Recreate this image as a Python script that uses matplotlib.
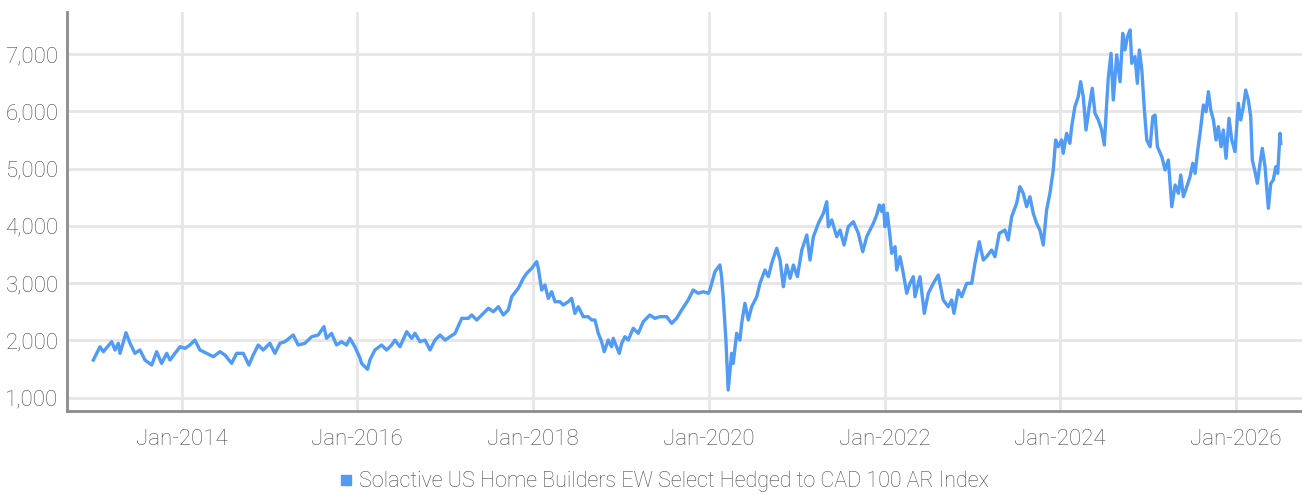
import matplotlib
matplotlib.use("Agg")
import matplotlib.pyplot as plt
import matplotlib.dates as mdates
from matplotlib.lines import Line2D
import pandas as pd
import numpy as np

# Decimal-year dates and index levels
years = [
    2012.994, 2013.070, 2013.108, 2013.203, 2013.241, 2013.278, 2013.298, 2013.366, 2013.412, 2013.468,
    2013.525, 2013.582, 2013.659, 2013.715, 2013.772, 2013.829, 2013.867, 2013.924, 2013.981, 2014.038,
    2014.094, 2014.151, 2014.208, 2014.285, 2014.360, 2014.436, 2014.493, 2014.569, 2014.626, 2014.701,
    2014.766, 2014.815, 2014.872, 2014.929, 2015.005, 2015.062, 2015.119, 2015.176, 2015.270, 2015.327,
    2015.403, 2015.480, 2015.555, 2015.620, 2015.650, 2015.707, 2015.764, 2015.821, 2015.878, 2015.916,
    2015.972, 2016.029, 2016.049, 2016.067, 2016.117, 2016.143, 2016.200, 2016.276, 2016.333, 2016.390,
    2016.428, 2016.485, 2016.561, 2016.618, 2016.655, 2016.712, 2016.769, 2016.826, 2016.883, 2016.940,
    2016.997, 2017.054, 2017.111, 2017.187, 2017.262, 2017.301, 2017.358, 2017.415, 2017.490, 2017.547,
    2017.604, 2017.660, 2017.717, 2017.756, 2017.831, 2017.888, 2017.927, 2017.984, 2018.041, 2018.059,
    2018.097, 2018.135, 2018.173, 2018.211, 2018.249, 2018.306, 2018.343, 2018.400, 2018.439, 2018.476,
    2018.514, 2018.571, 2018.628, 2018.667, 2018.704, 2018.742, 2018.780, 2018.810, 2018.855, 2018.894,
    2018.912, 2018.981, 2019.008, 2019.046, 2019.083, 2019.140, 2019.197, 2019.254, 2019.330, 2019.387,
    2019.444, 2019.520, 2019.577, 2019.634, 2019.691, 2019.766, 2019.823, 2019.880, 2019.937, 2019.994,
    2020.013, 2020.070, 2020.127, 2020.146, 2020.164, 2020.195, 2020.221, 2020.260, 2020.278, 2020.317,
    2020.354, 2020.374, 2020.411, 2020.449, 2020.488, 2020.545, 2020.582, 2020.639, 2020.677, 2020.715,
    2020.772, 2020.810, 2020.847, 2020.886, 2020.924, 2020.961, 2021.007, 2021.057, 2021.114, 2021.151,
    2021.189, 2021.246, 2021.303, 2021.341, 2021.359, 2021.398, 2021.455, 2021.493, 2021.538, 2021.587,
    2021.644, 2021.701, 2021.751, 2021.796, 2021.872, 2021.910, 2021.940, 2021.967, 2021.986, 2022.005,
    2022.031, 2022.062, 2022.081, 2022.119, 2022.138, 2022.176, 2022.213, 2022.252, 2022.289, 2022.327,
    2022.346, 2022.403, 2022.452, 2022.498, 2022.555, 2022.611, 2022.668, 2022.725, 2022.764, 2022.790,
    2022.839, 2022.878, 2022.935, 2022.992, 2023.029, 2023.078, 2023.124, 2023.162, 2023.219, 2023.257,
    2023.306, 2023.371, 2023.408, 2023.447, 2023.504, 2023.541, 2023.579, 2023.618, 2023.655, 2023.693,
    2023.731, 2023.769, 2023.807, 2023.845, 2023.883, 2023.921, 2023.948, 2023.977, 2024.016, 2024.034,
    2024.073, 2024.110, 2024.130, 2024.167, 2024.205, 2024.232, 2024.262, 2024.293, 2024.330, 2024.364,
    2024.395, 2024.433, 2024.471, 2024.501, 2024.528, 2024.546, 2024.577, 2024.603, 2024.642, 2024.680,
    2024.710, 2024.736, 2024.763, 2024.794, 2024.813, 2024.850, 2024.876, 2024.899, 2024.927, 2024.956,
    2024.983, 2025.021, 2025.052, 2025.078, 2025.104, 2025.154, 2025.192, 2025.229, 2025.268, 2025.306,
    2025.343, 2025.370, 2025.400, 2025.439, 2025.476, 2025.507, 2025.533, 2025.564, 2025.590, 2025.628,
    2025.658, 2025.685, 2025.712, 2025.742, 2025.772, 2025.798, 2025.829, 2025.855, 2025.886, 2025.920,
    2025.951, 2025.988, 2026.026, 2026.053, 2026.083, 2026.110, 2026.140, 2026.167, 2026.185, 2026.216,
    2026.242, 2026.273, 2026.299, 2026.330, 2026.368, 2026.395, 2026.424, 2026.452, 2026.474, 2026.501,
    2026.509,
]
values = [
    1658, 1890, 1803, 1978, 1833, 1950, 1775, 2135, 1950, 1775,
    1833, 1658, 1571, 1803, 1600, 1775, 1658, 1775, 1890, 1862,
    1920, 2007, 1833, 1775, 1716, 1803, 1746, 1600, 1775, 1775,
    1571, 1746, 1920, 1833, 1950, 1775, 1950, 1978, 2095, 1920,
    1950, 2065, 2095, 2240, 2037, 2124, 1920, 1978, 1920, 2037,
    1890, 1700, 1600, 1571, 1496, 1658, 1833, 1920, 1833, 1920,
    2007, 1890, 2152, 2037, 2124, 1978, 2007, 1833, 2007, 2095,
    2007, 2065, 2124, 2386, 2386, 2444, 2357, 2444, 2561, 2502,
    2589, 2444, 2531, 2763, 2910, 3085, 3172, 3259, 3375, 3259,
    2880, 2968, 2735, 2851, 2676, 2676, 2618, 2676, 2735, 2473,
    2589, 2414, 2414, 2357, 2357, 2124, 1978, 1803, 2007, 1890,
    2037, 1775, 1950, 2065, 2007, 2212, 2124, 2327, 2444, 2386,
    2414, 2414, 2299, 2386, 2531, 2706, 2880, 2823, 2851, 2823,
    2880, 3200, 3317, 3113, 2763, 2007, 1134, 1775, 1600, 2124,
    2007, 2299, 2648, 2357, 2589, 2763, 2997, 3230, 3113, 3346,
    3608, 3404, 2938, 3317, 3085, 3317, 3113, 3579, 3841, 3404,
    3811, 4045, 4220, 4422, 3986, 4103, 3811, 3928, 3666, 3986,
    4073, 3870, 3549, 3811, 4045, 4190, 4365, 4250, 4365, 3986,
    4220, 3811, 3521, 3637, 3230, 3462, 3172, 2823, 2997, 3113,
    2763, 3113, 2473, 2823, 2997, 3142, 2706, 2589, 2706, 2473,
    2880, 2763, 2997, 2997, 3346, 3724, 3404, 3462, 3579, 3462,
    3870, 3928, 3753, 4160, 4394, 4684, 4569, 4335, 4510, 4220,
    4045, 3928, 3666, 4277, 4569, 4976, 5500, 5382, 5500, 5267,
    5616, 5441, 5732, 6081, 6255, 6517, 6255, 5674, 6081, 6402,
    5966, 5849, 5674, 5412, 6140, 6577, 7013, 6198, 6984, 6517,
    7362, 7071, 7303, 7420, 6838, 6954, 6489, 7071, 6722, 6023,
    5500, 5382, 5906, 5936, 5382, 5208, 4976, 5150, 4335, 4714,
    4569, 4888, 4510, 4684, 4859, 5093, 4918, 5325, 5616, 6111,
    5993, 6343, 6023, 5849, 5500, 5732, 5382, 5674, 5180, 5878,
    5500, 5296, 6140, 5849, 6081, 6372, 6198, 5906, 5150, 4946,
    4743, 5093, 5354, 5033, 4307, 4743, 4801, 5033, 4918, 5616,
    5441,
]
series_name = "Solactive US Home Builders EW Select Hedged to CAD 100 AR Index"
y_ticks = [1000, 2000, 3000, 4000, 5000, 6000, 7000]
x_tick_years = [2014, 2016, 2018, 2020, 2022, 2024, 2026]


def dec_to_date(y):
    yr = int(np.floor(y))
    start = pd.Timestamp(year=yr, month=1, day=1)
    end = pd.Timestamp(year=yr + 1, month=1, day=1)
    return start + (end - start) * (y - yr)


dates = [dec_to_date(y) for y in years]

LINE = "#4f9bf6"
TXT = "#4a4a4a"
GRID = "#e6e6e6"
SPINE = "#8c8c8c"
FONT = ["Roboto", "DejaVu Sans"]

fig = plt.figure(figsize=(13.02, 4.95), dpi=100)
ax = fig.add_axes([67 / 1302, 1 - 411 / 495, (1302 - 67) / 1302, (411 - 12) / 495])

ax.plot(dates, values, color=LINE, lw=2.4, solid_joinstyle="round")

ax.set_xlim(dec_to_date(2012.695), dec_to_date(2026.751))
ax.set_ylim(768, 7734)
ax.set_yticks(y_ticks)
ax.set_yticklabels([f"{v:,}" for v in y_ticks])
xt = [pd.Timestamp(year=y, month=1, day=1) for y in x_tick_years]
ax.set_xticks(xt)
ax.set_xticklabels([f"Jan-{y}" for y in x_tick_years])

ax.grid(True, color=GRID, lw=2)
ax.set_axisbelow(True)
for s in ["top", "right"]:
    ax.spines[s].set_visible(False)
for s in ["left", "bottom"]:
    ax.spines[s].set_color(SPINE)
    ax.spines[s].set_linewidth(2)
ax.tick_params(length=0, pad=6, colors=TXT, labelsize=16)
for lab in ax.get_xticklabels() + ax.get_yticklabels():
    lab.set_family(FONT)
    lab.set_fontweight("light")
ax.tick_params(axis="x", pad=13)

handle = Line2D([], [], marker="s", color=LINE, lw=0, markersize=7)
fig.legend([handle], [series_name], loc="center", bbox_to_anchor=(664 / 1302, 1 - 482 / 495),
           frameon=False, handlelength=0.6, handletextpad=0.3,
           prop={"family": FONT, "size": 15.5, "weight": "light"}, labelcolor=TXT)

fig.savefig("out.png", dpi=100)
